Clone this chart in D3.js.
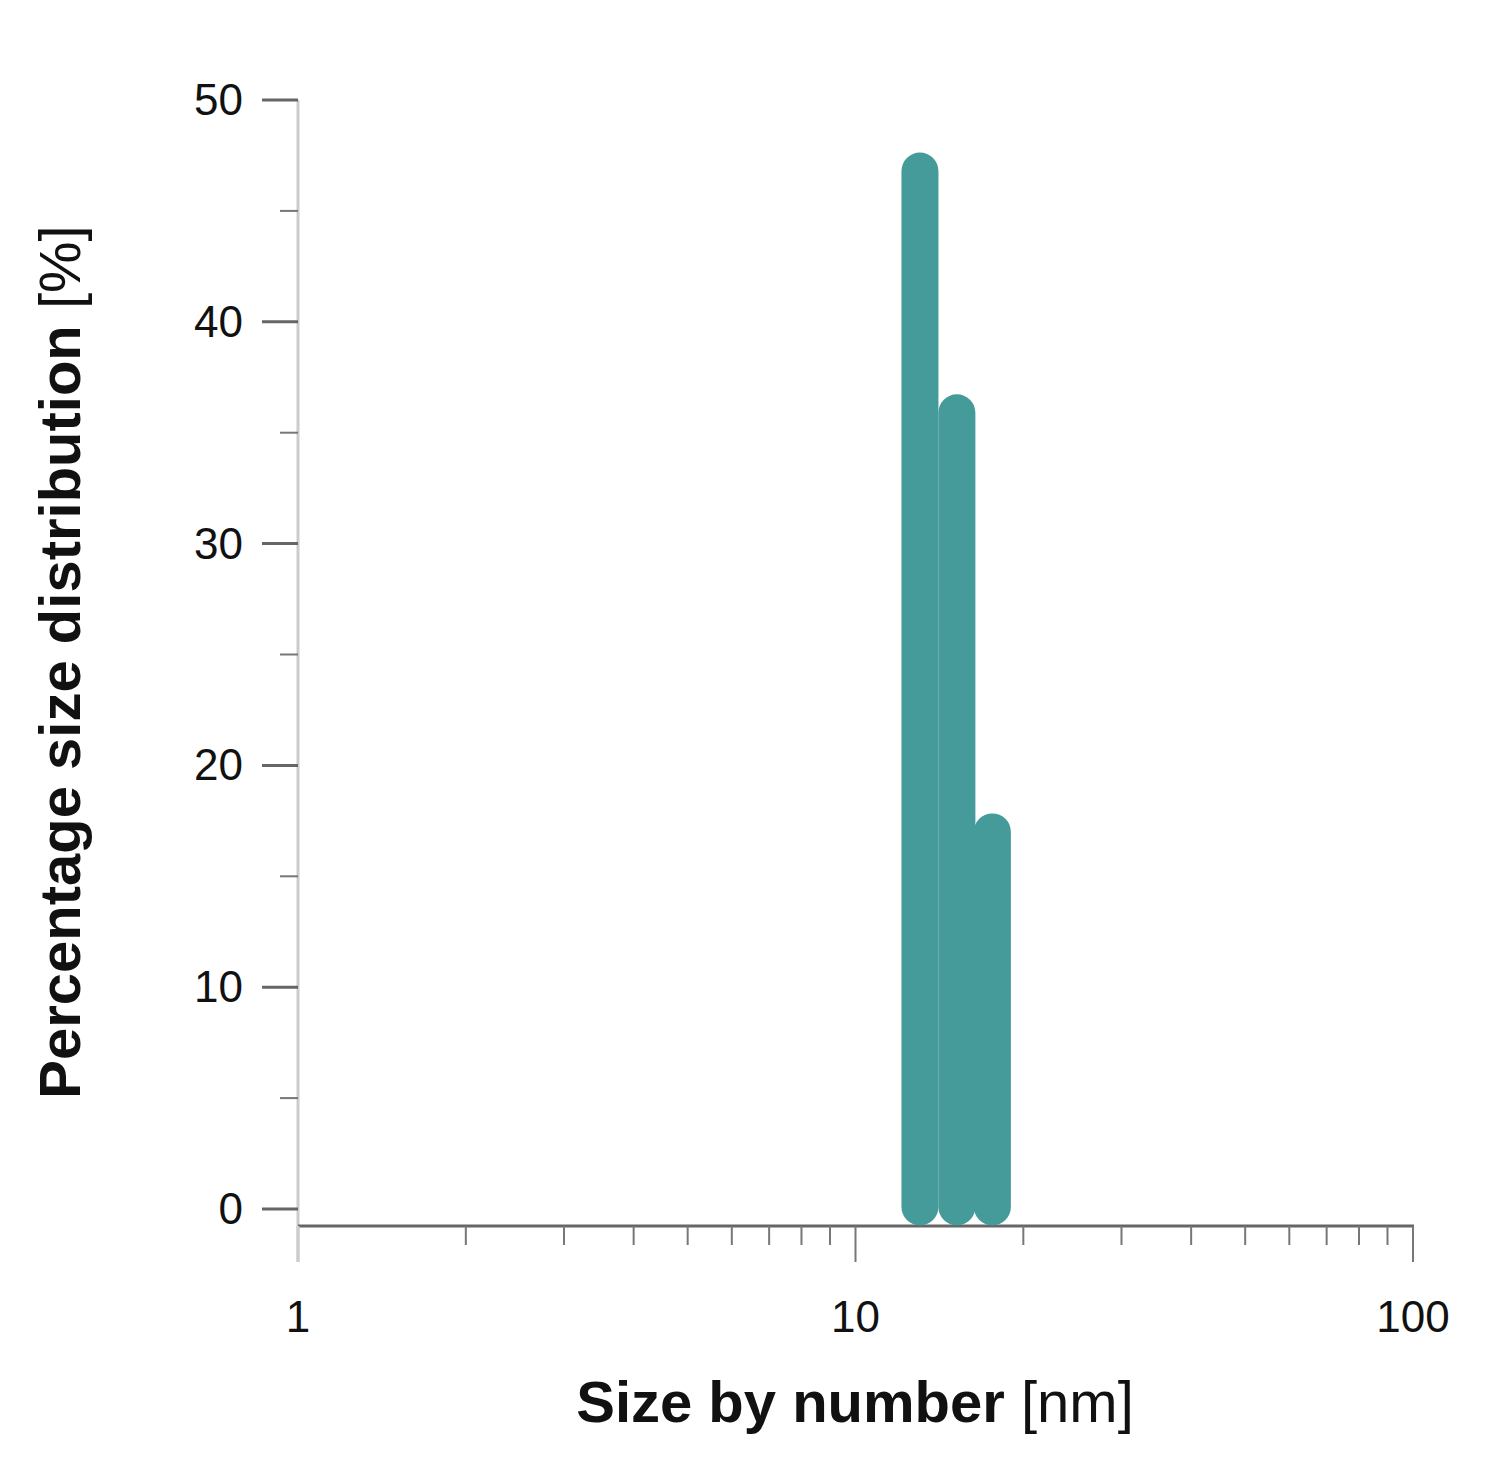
<!DOCTYPE html>
<html><head><meta charset="utf-8">
<script src="https://cdn.jsdelivr.net/npm/d3@7"></script>
<style>body{margin:0;background:#fff}</style>
</head><body>
<svg id="c" width="1490" height="1479"></svg>
<script>
// size (nm) and percent
var sizes=[13.05,15.2,17.6];
var percents=[46.8,35.9,17.0];
var yTicks=[0,10,20,30,40,50];
var yMinor=[5,15,25,35,45];
var xTicks=[1,10,100];

var svg=d3.select("#c");
var x=d3.scaleLog().domain([1,100]).range([298,1413]);
var y=d3.scaleLinear().domain([0,50]).range([1209,100]);
var axisY=1226;
var font="Liberation Sans, Arial, sans-serif";

// y axis line
svg.append("line").attr("x1",298).attr("x2",298).attr("y1",100).attr("y2",1262)
  .attr("stroke","#ccc").attr("stroke-width",3);
// y ticks
yTicks.forEach(function(t){
  svg.append("line").attr("x1",262).attr("x2",298).attr("y1",y(t)).attr("y2",y(t))
    .attr("stroke","#666").attr("stroke-width",3);
  svg.append("text").attr("x",243).attr("y",y(t)+15).attr("text-anchor","end")
    .attr("font-family",font).attr("font-size",44).attr("fill","#111").text(t);
});
yMinor.forEach(function(t){
  svg.append("line").attr("x1",280).attr("x2",298).attr("y1",y(t)).attr("y2",y(t))
    .attr("stroke","#777").attr("stroke-width",2);
});
// x axis
svg.append("line").attr("x1",298).attr("x2",1414).attr("y1",axisY).attr("y2",axisY)
  .attr("stroke","#666").attr("stroke-width",3);
var minor=[];
[1,10].forEach(function(d){for(var k=2;k<10;k++)minor.push(d*k)});
minor.forEach(function(t){
  svg.append("line").attr("x1",x(t)).attr("x2",x(t)).attr("y1",axisY).attr("y2",axisY+19)
    .attr("stroke","#777").attr("stroke-width",2);
});
xTicks.forEach(function(t){
  svg.append("line").attr("x1",x(t)).attr("x2",x(t)).attr("y1",axisY).attr("y2",1262)
    .attr("stroke",t==1?"#ccc":"#777").attr("stroke-width",t==1?3:2);
  svg.append("text").attr("x",x(t)).attr("y",1332).attr("text-anchor","middle")
    .attr("font-family",font).attr("font-size",44).attr("fill","#111").text(t);
});

// bars
sizes.forEach(function(s,i){
  svg.append("line").attr("x1",x(s)).attr("x2",x(s)).attr("y1",y(0)-2).attr("y2",y(percents[i]))
    .attr("stroke","#459b99").attr("stroke-width",37).attr("stroke-linecap","round");
});

// labels
var xl=svg.append("text").attr("x",855).attr("y",1422).attr("text-anchor","middle")
  .attr("font-family",font).attr("font-size",58).attr("fill","#111");
xl.append("tspan").attr("font-weight","bold").text("Size by number ");
xl.append("tspan").text("[nm]");
var yl=svg.append("text").attr("transform","translate(80,662) rotate(-90)").attr("text-anchor","middle")
  .attr("font-family",font).attr("font-size",58).attr("fill","#111");
yl.append("tspan").attr("font-weight","bold").text("Percentage size distribution ");
yl.append("tspan").text("[%]");
</script>
</body></html>
